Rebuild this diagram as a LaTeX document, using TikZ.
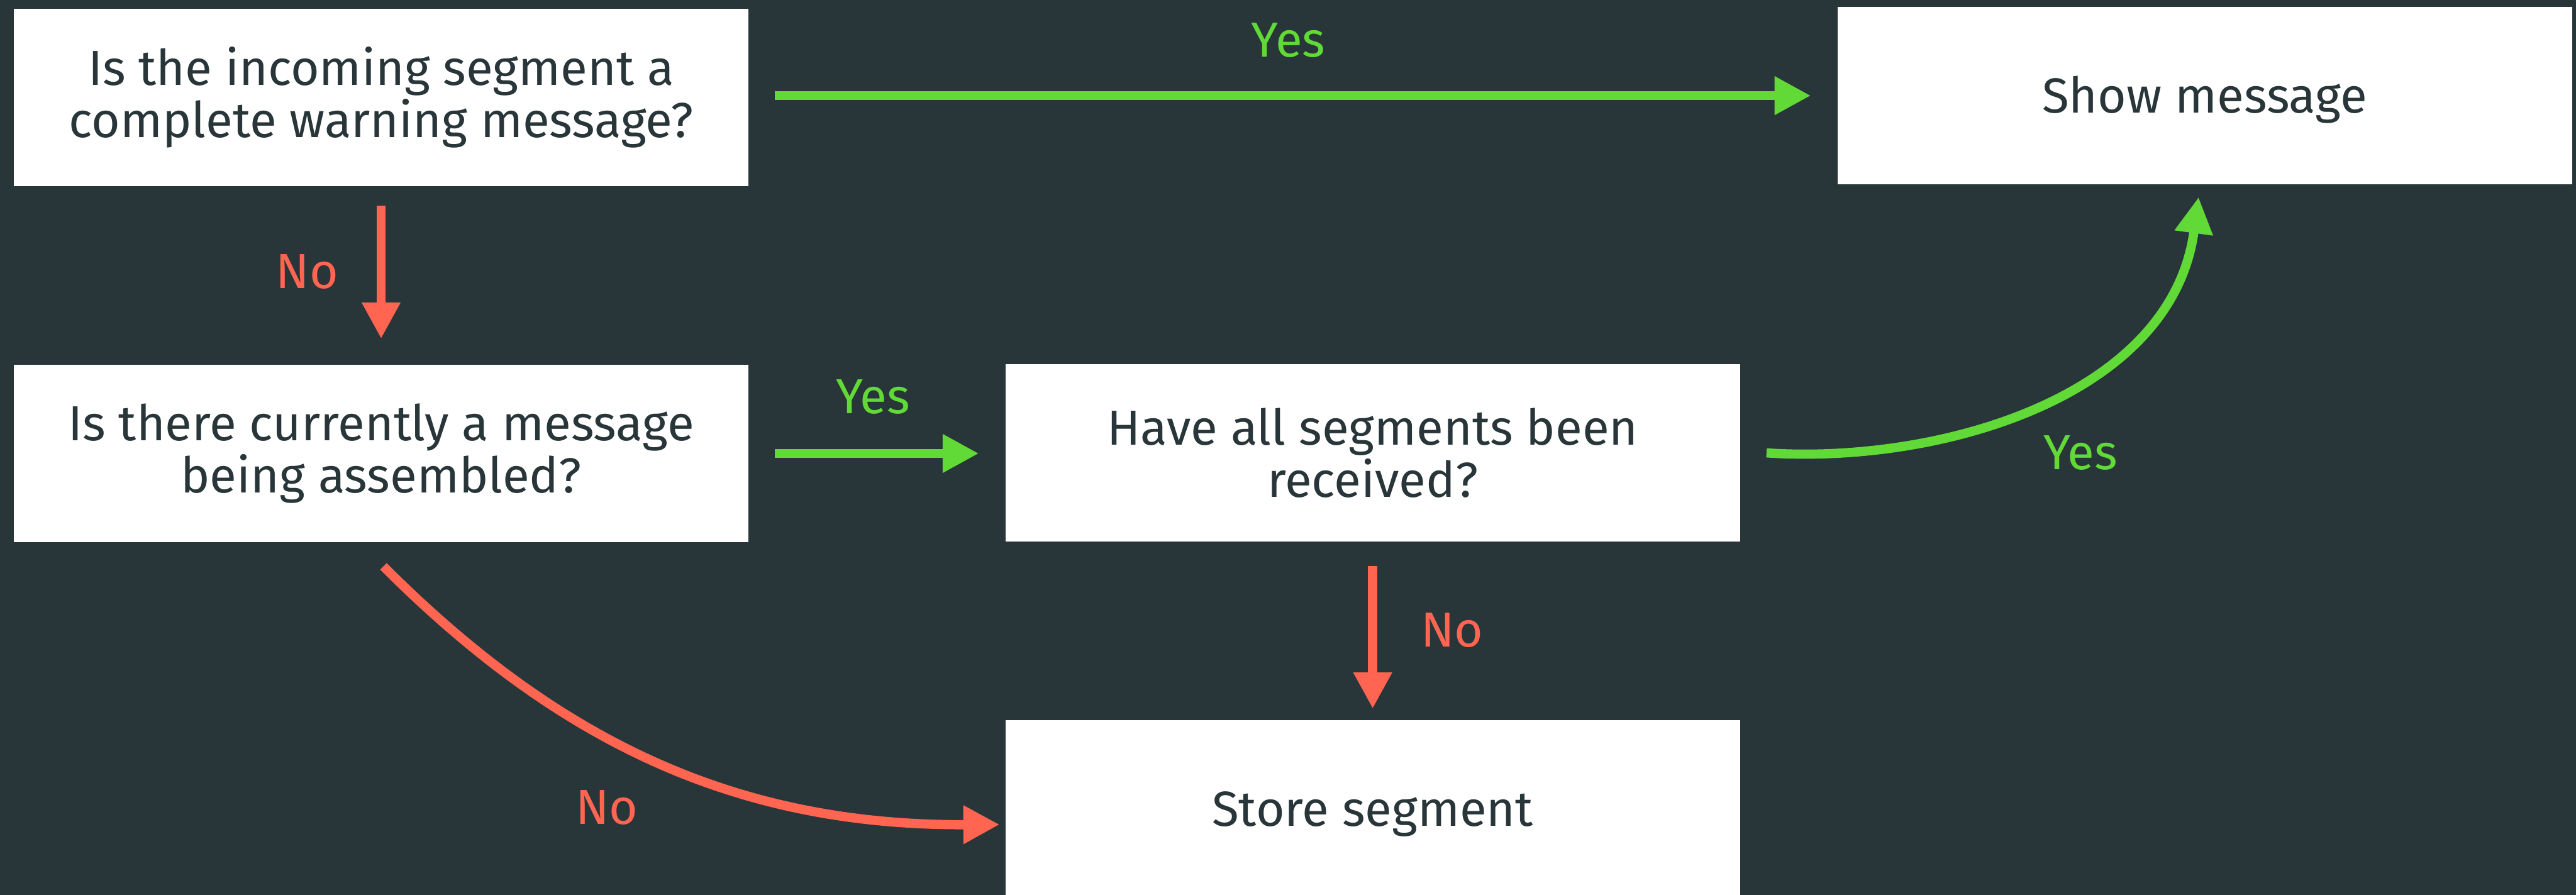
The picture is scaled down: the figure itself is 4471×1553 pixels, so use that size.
\documentclass[tikz,border=0pt]{standalone}
\usepackage{fontspec}
\setmainfont{Fira Sans}
\usetikzlibrary{arrows.meta,calc}
\definecolor{bg}{HTML}{283539}
\definecolor{ink}{HTML}{283539}
\definecolor{yesgreen}{HTML}{61D936}
\definecolor{nored}{HTML}{FF6550}

\begin{document}
\begin{tikzpicture}[x=0.2pt,y=-0.2pt,
  box/.style={fill=white, minimum width=255pt, minimum height=61.6pt,
    inner sep=0pt, align=center, text=ink,
    font=\fontsize{17.1}{18.2}\selectfont},
  onebox/.style={box, text height=11.8pt, text depth=0pt},
  conn/.style={line width=3.2pt, -{Triangle[length=12.6pt,width=12.6pt]}},
  yesline/.style={conn, color=yesgreen},
  noline/.style={conn, color=nored},
  lbl/.style={anchor=base, inner sep=0pt, font=\fontsize{17.1}{18.2}\selectfont},
  yeslabel/.style={lbl, text=yesgreen},
  nolabel/.style={lbl, text=nored}
]
% canvas
\fill[bg] (0,0) rectangle (4471,1553);
\useasboundingbox (0,0) rectangle (4471,1553);

% decision and action boxes
\node[box] (q1) at (661.5,169) {Is the incoming segment a\\complete warning message?};
\node[onebox] (show) at (3826.5,166) {Show message};
\node[box] (q2) at (661.5,787) {Is there currently a message\\being assembled?};
\node[box] (q3) at (2382.5,786) {Have all segments been\\received?};
\begin{scope}
  \clip (0,0) rectangle (4471,1553);
  \node[onebox] (store) at (2382.5,1404) {Store segment};
\end{scope}

% connectors
\draw[yesline, shorten <=9pt, shorten >=9pt] (q1.east |- show.west) -- (show.west);
\draw[noline, shorten <=6.6pt, shorten >=8.8pt] (q1.south) -- (q2.north);
\draw[yesline, shorten <=9pt, shorten >=9pt] (q2.east) -- (q2.east -| q3.west);
\draw[noline, shorten <=8.2pt, shorten >=3.8pt] (q3.south) -- (store.north);
\draw[noline] ($(q2.south)+(4,41)$) .. controls +(300,300) and +(-463,2) .. ($(store.west)+(-9,27)$);
\draw[yesline] ($(q3.east)+(45,0)$) .. controls +(300,20) and +(-47,347) .. ($(show.south)+(-10.5,21)$);

% branch labels
\node[yeslabel] (l1) at (2236,99) {Yes};
\node[nolabel] (l2) at (533,501) {No};
\node[yeslabel] (l3) at (1515,718) {Yes};
\node[nolabel] (l4) at (1053,1431) {No};
\node[nolabel] (l5) at (2520,1123) {No};
\node[yeslabel] (l6) at (3611,815) {Yes};
\end{tikzpicture}
\end{document}
